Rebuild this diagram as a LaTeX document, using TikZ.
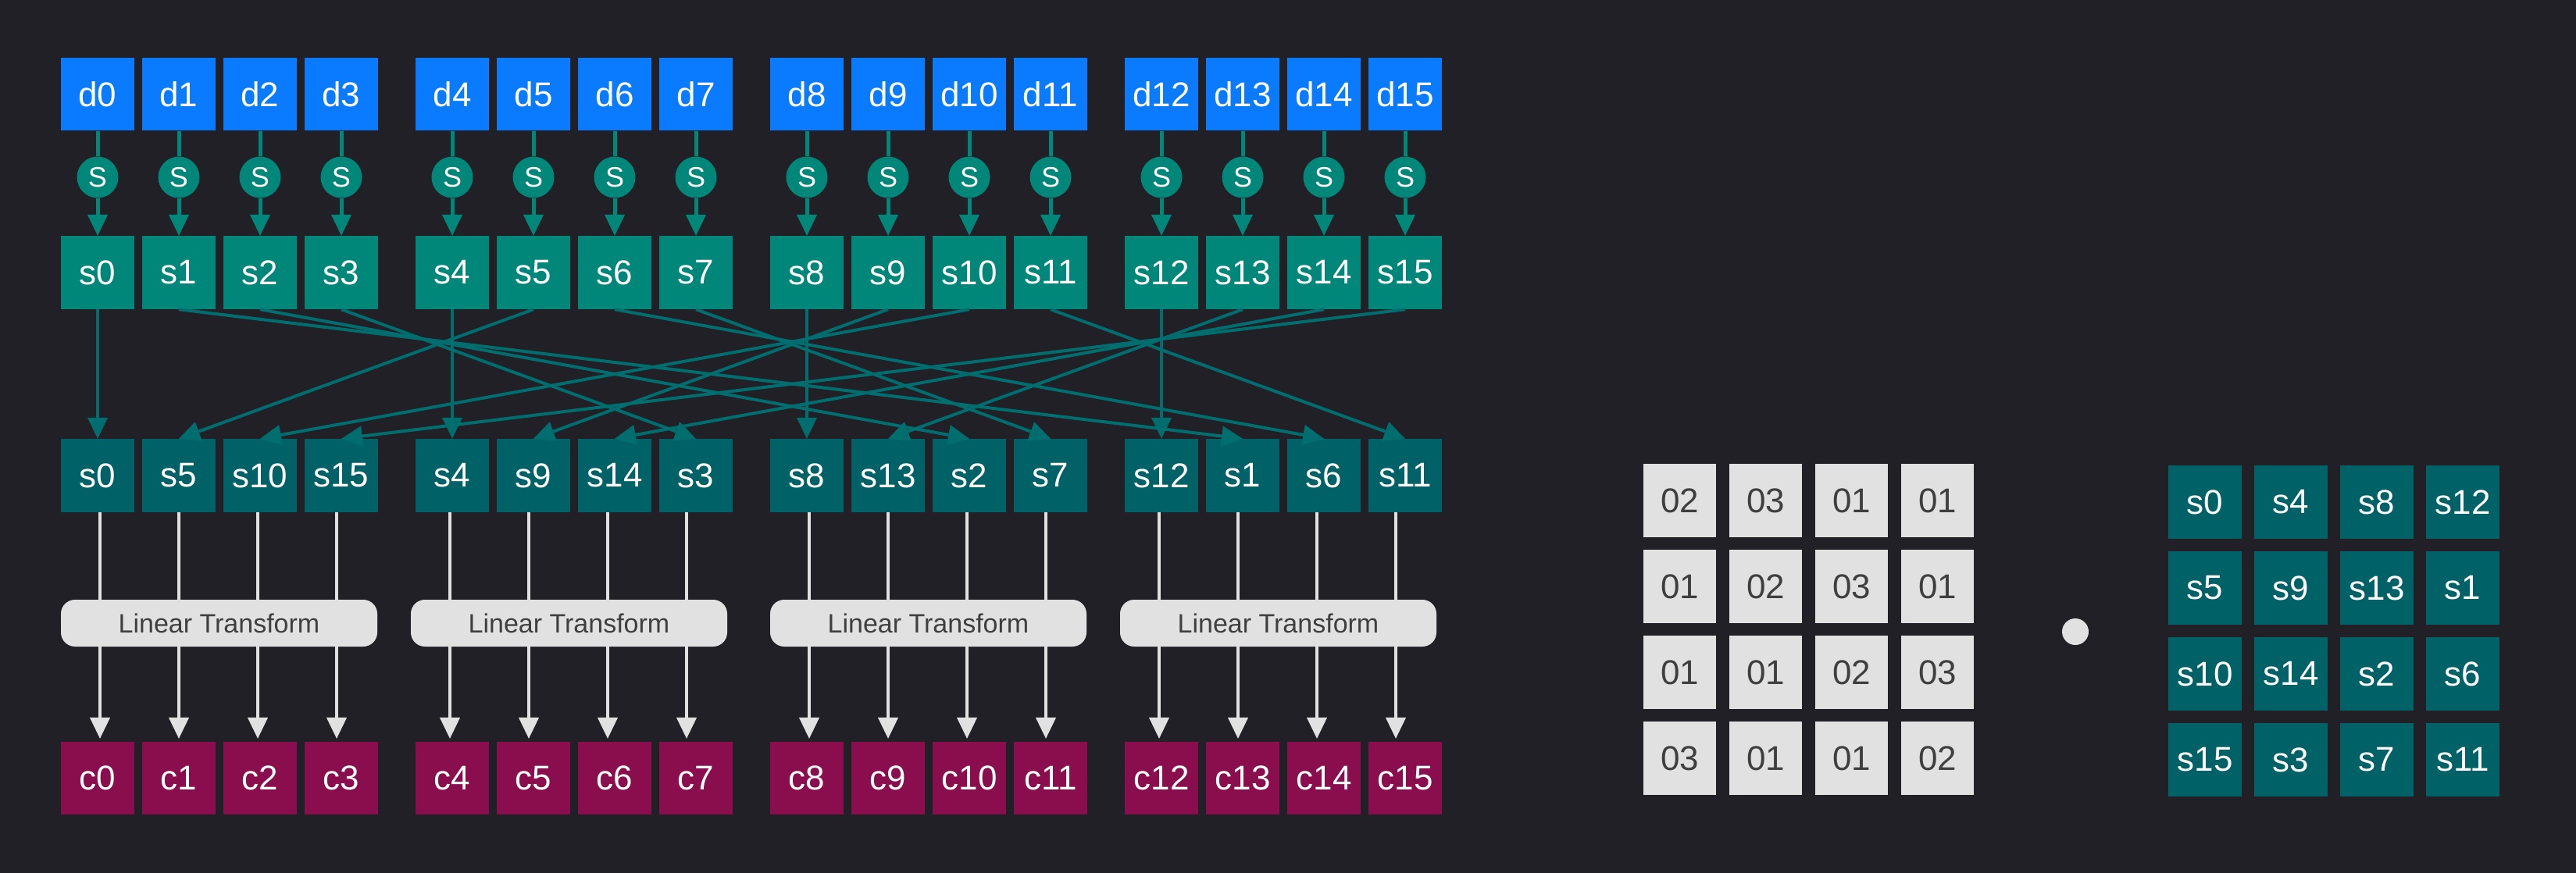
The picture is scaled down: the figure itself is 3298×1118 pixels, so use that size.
\documentclass[tikz,border=0pt]{standalone}
\usepackage{fontspec}
\setmainfont{Liberation Sans}
\usetikzlibrary{arrows.meta}

\definecolor{bgdark}{HTML}{212026}
\definecolor{dblue}{HTML}{0A7AFF}
\definecolor{steal}{HTML}{00877A}
\definecolor{rowteal}{HTML}{006166}
\definecolor{wireteal}{HTML}{006D6E}
\definecolor{cmag}{HTML}{8A0E4E}
\definecolor{lgray}{HTML}{E1E1E1}
\definecolor{dtext}{HTML}{3F3F3F}

\tikzset{
  cell/.style={minimum width=94pt,minimum height=94pt,inner sep=0pt,text=white,font=\fontsize{44}{48}\selectfont},
  dcell/.style={cell,fill=dblue,minimum height=93pt},
  scell/.style={cell,fill=steal},
  mcell/.style={cell,fill=rowteal},
  ccell/.style={cell,fill=cmag,minimum height=93pt},
  gcell/.style={cell,fill=lgray,text=dtext,minimum width=93pt},
  sbox/.style={circle,fill=steal,minimum size=53pt,inner sep=0pt,text=white,font=\fontsize{36}{40}\selectfont},
  ltbox/.style={rounded corners=18pt,fill=lgray,minimum width=405pt,minimum height=60pt,inner sep=0pt,text=dtext,font=\fontsize{34}{38}\selectfont},
  tip/.style={-{Triangle[width=26pt,length=27pt,line width=1pt]}},
  sub/.style={line width=5pt,draw=steal},
  wire/.style={line width=4pt,draw=wireteal,tip},
  mix/.style={line width=3.5pt,draw=lgray},
}

\begin{document}
\begin{tikzpicture}[x=1pt,y=-1pt]
  \path[use as bounding box,fill=bgdark] (0,0) rectangle (3298,1118);

  % input bytes, s-box and output bytes
  \foreach \i in {0,...,15} {
    \pgfmathsetmacro\x{125+454*int(\i/4)+104*mod(\i,4)}
    \node[dcell] (d\i) at (\x,121) {d\i};
    \node[sbox] (sb\i) at (\x,227) {S};
    \node[scell] (s\i) at (\x,349) {s\i};
    \node[ccell] (c\i) at (\x,996.5) {c\i};
    \draw[sub] (d\i) -- (sb\i);
    \draw[sub,tip] (sb\i) -- (s\i);
  }

  % shifted rows
  \foreach \v [count=\p from 0] in {0,5,10,15,4,9,14,3,8,13,2,7,12,1,6,11} {
    \pgfmathsetmacro\x{125+454*int(\p/4)+104*mod(\p,4)}
    \pgfmathsetmacro\off{3-3*mod(\p,4)-6*mod(int(\p/4),2)}
    \node[mcell] (m\p) at (\x,609) {s\v};
    \draw[wire] (s\v.south) -- (m\p.north);
    \draw[mix,tip,shorten >=4pt] ([xshift=\off pt]m\p.south) -- ([xshift=\off pt]c\p.north);
  }

  \foreach \g/\dx in {0/0,1/-6,2/0,3/-6}
    \node[ltbox] (lt\g) at ({280.5+454*\g+\dx},798) {Linear Transform};

  % matrix form
  \foreach \row [count=\r from 0] in {{02,03,01,01},{01,02,03,01},{01,01,02,03},{03,01,01,02}} {
    \foreach \e [count=\k from 0] in \row
      \node[gcell] (g\r\k) at ({2150.5+110*\k},{641+110*\r}) {\e};
  }
  \node[circle,fill=lgray,minimum size=34pt,inner sep=0pt] (dot) at (2657,809) {};
  \foreach \row [count=\r from 0] in {{s0,s4,s8,s12},{s5,s9,s13,s1},{s10,s14,s2,s6},{s15,s3,s7,s11}} {
    \foreach \e [count=\k from 0] in \row
      \node[mcell] (q\r\k) at ({2823+110*\k},{643+110*\r}) {\e};
  }
\end{tikzpicture}
\end{document}
